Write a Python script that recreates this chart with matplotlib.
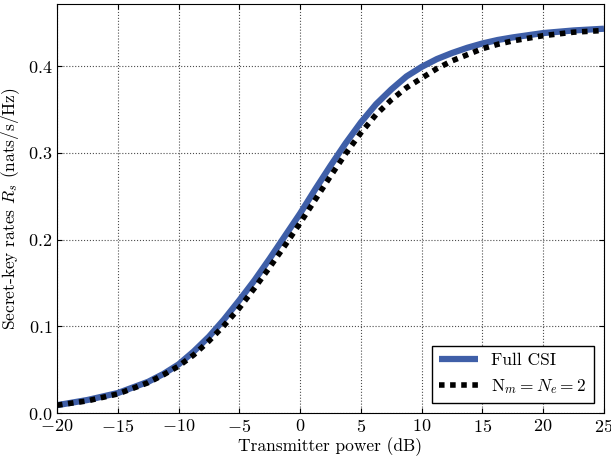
import numpy as np
import matplotlib
matplotlib.use("Agg")
import matplotlib.pyplot as plt

# Transmitter power (dB)
potencia_db = [-20, -17.5, -15, -12.5, -11.25, -10, -8.75, -7.5, -6.25, -5,
               -3.75, -2.5, -1.25, 0, 1.25, 2.5, 3.75, 5, 6.25, 7.5, 8.75,
               10, 11.25, 12.5, 13.75, 15, 16.25, 17.5, 20, 22.5, 25]

# Secret-key rates, full CSI
taxa_full_csi = [0.009, 0.015, 0.023, 0.036, 0.045, 0.056, 0.071, 0.088, 0.108, 0.130,
                 0.153, 0.178, 0.204, 0.230, 0.258, 0.285, 0.311, 0.335, 0.356, 0.373, 0.388,
                 0.399, 0.408, 0.415, 0.421, 0.426, 0.430, 0.433, 0.438, 0.441, 0.443]

# Secret-key rates, N_m = N_e = 2
taxa_nm_ne2 = [0.009, 0.014, 0.022, 0.035, 0.044, 0.054, 0.067, 0.083, 0.101, 0.121,
               0.144, 0.168, 0.193, 0.219, 0.246, 0.273, 0.299, 0.323, 0.344, 0.361, 0.375,
               0.386, 0.397, 0.406, 0.413, 0.420, 0.425, 0.429, 0.435, 0.439, 0.441]

rotulos_legenda = ["Full CSI", r"N$_m = N_e = 2$"]

plt.rcParams.update({
    'font.family': 'serif',
    'font.serif': ['cmr10'],
    'mathtext.fontset': 'cm',
    'axes.formatter.use_mathtext': True,
    'font.size': 12,
})

fig = plt.figure(figsize=(6.11, 4.59), dpi=100)
ax = fig.add_axes([0.0933, 0.1002, 0.8952, 0.8911])

ax.plot(potencia_db, taxa_full_csi, color='#3f5fa8', linewidth=4.5,
        solid_capstyle='butt', label=rotulos_legenda[0])
ax.plot(potencia_db, taxa_nm_ne2, color='black', linewidth=4,
        linestyle=(0, (1, 1)), dash_capstyle='butt', label=rotulos_legenda[1])

ax.set_xlim(-20, 25)
ax.set_ylim(0, 0.4715)
ax.set_xticks(np.arange(-20, 26, 5))
ax.set_yticks([0.0, 0.1, 0.2, 0.3, 0.4])
ax.grid(True, color='0.3', linestyle=':', linewidth=0.8)
ax.tick_params(direction='in', top=True, right=True, labelsize=13)

ax.set_xlabel("Transmitter power (dB)", fontsize=12.5, labelpad=2)
ax.set_ylabel(r"Secret-key rates $R_s$ (nats/s/Hz)", fontsize=12.5)

leg = ax.legend(loc='lower right', fancybox=False, edgecolor='black',
                framealpha=1, fontsize=12.5, handlelength=2.2,
                borderaxespad=0.6)
leg.get_frame().set_linewidth(1.0)

fig.savefig("out.png", dpi=100)
